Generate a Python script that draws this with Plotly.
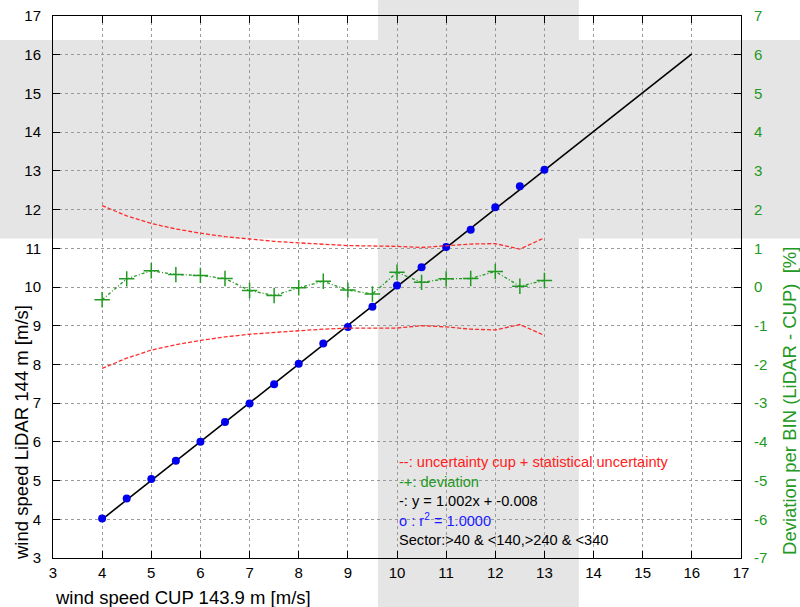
import plotly.graph_objects as go

# ---------------- data ----------------
cup_bins = [4.0, 4.5, 5.0, 5.5, 6.0, 6.5, 7.0, 7.5, 8.0, 8.5, 9.0, 9.5,
            10.0, 10.5, 11.0, 11.5, 12.0, 12.5, 13.0]
lidar_bins = [4.02, 4.54, 5.04, 5.51, 6.00, 6.51, 6.99, 7.49, 8.02, 8.54, 8.97, 9.49,
              10.04, 10.51, 11.03, 11.48, 12.06, 12.60, 13.03]
deviation = [-0.33, 0.21, 0.42, 0.32, 0.30, 0.22, -0.09, -0.22, -0.02, 0.15, -0.08, -0.18,
             0.38, 0.12, 0.21, 0.22, 0.40, 0.02, 0.17]
unc_upper = [2.10, 1.84, 1.64, 1.50, 1.39, 1.30, 1.24, 1.18, 1.14, 1.10, 1.07, 1.06,
             1.05, 1.02, 1.06, 1.11, 1.12, 0.98, 1.27]
unc_lower = [-2.10, -1.84, -1.63, -1.49, -1.38, -1.29, -1.22, -1.17, -1.13, -1.09, -1.06, -1.06,
             -1.06, -1.00, -1.03, -1.09, -1.11, -0.97, -1.25]
fit_x = [4.0, 16.0]
fit_y = [4.0, 16.024]
ticks_main = list(range(3, 18))
ticks_dev = list(range(-7, 8))

legend_lines = [
    ("--: uncertainty cup + statistical uncertainty", "#ff2020"),
    ("-+: deviation", "#229922"),
    ("-: y = 1.002x + -0.008", "#000000"),
    ("o : r<sup>2</sup> = 1.0000", "#1a1aff"),
    ("Sector:>40 & <140,>240 & <340", "#000000"),
]

FONT = "Liberation Sans, Arial, Helvetica, sans-serif"
GREEN = "#229922"
GRAY_BAND = "#e5e5e5"

fig = go.Figure()

# uncertainty (right axis)
fig.add_trace(go.Scatter(x=cup_bins, y=unc_upper, yaxis="y2", mode="lines",
                         line=dict(color="#ff2a2a", width=1.3, dash="4px,2px"),
                         showlegend=False, hoverinfo="skip"))
fig.add_trace(go.Scatter(x=cup_bins, y=unc_lower, yaxis="y2", mode="lines",
                         line=dict(color="#ff2a2a", width=1.3, dash="4px,2px"),
                         showlegend=False, hoverinfo="skip"))
# deviation (right axis)
fig.add_trace(go.Scatter(x=cup_bins, y=deviation, yaxis="y2", mode="lines+markers",
                         line=dict(color=GREEN, width=1.3, dash="3px,2px,1px,2px"),
                         marker=dict(symbol="cross-thin", size=11,
                                     line=dict(color=GREEN, width=1.5)),
                         showlegend=False))
# fit line
fig.add_trace(go.Scatter(x=fit_x, y=fit_y, mode="lines",
                         line=dict(color="black", width=1.6),
                         showlegend=False))
# bin averages
fig.add_trace(go.Scatter(x=cup_bins, y=lidar_bins, mode="markers",
                         marker=dict(color="#0000ee", size=8, line=dict(width=0)),
                         showlegend=False))

# gray background bands
fig.add_shape(type="rect", xref="x", yref="paper", x0=9.61, x1=13.70, y0=-0.3, y1=1.3,
              fillcolor=GRAY_BAND, line=dict(width=0), layer="below")
fig.add_shape(type="rect", xref="paper", yref="y", x0=-0.3, x1=1.3, y0=11.25, y1=16.38,
              fillcolor=GRAY_BAND, line=dict(width=0), layer="below")

# legend text
for i, (txt, col) in enumerate(legend_lines):
    fig.add_annotation(x=10.0, y=5.47 - 0.5 * i, xref="x", yref="y", text=txt,
                       showarrow=False, xanchor="left", yanchor="middle",
                       font=dict(family=FONT, size=14.6, color=col))

# axis titles
fig.add_annotation(x=0, y=0, xref="paper", yref="paper", xanchor="left", yanchor="middle",
                   yshift=-39, text="wind speed CUP 143.9 m [m/s]", showarrow=False,
                   font=dict(family=FONT, size=18.5, color="black"))
fig.add_annotation(x=0, y=0.2306, xref="paper", yref="paper", xanchor="center",
                   yanchor="middle", xshift=-32, textangle=-90,
                   text="wind speed LiDAR 144 m [m/s]", showarrow=False,
                   font=dict(family=FONT, size=18.5, color="black"))
fig.add_annotation(x=1, y=0.2897, xref="paper", yref="paper", xanchor="center",
                   yanchor="middle", xshift=49, textangle=-90,
                   text="Deviation per BIN (LiDAR - CUP)  [%]", showarrow=False,
                   font=dict(family=FONT, size=18.5, color=GREEN))

axis_common = dict(ticks="inside", ticklen=7, tickcolor="black", tickwidth=1,
                   showline=True, linecolor="black", linewidth=1, zeroline=False,
                   automargin=False)

fig.update_layout(
    width=800, height=607, autosize=False,
    margin=dict(l=53, r=59, t=16, b=49, pad=0, autoexpand=False),
    paper_bgcolor="white", plot_bgcolor="rgba(0,0,0,0)",
    font=dict(family=FONT, size=15, color="black"),
    showlegend=False,
    xaxis=dict(range=[3, 17], tickvals=ticks_main, ticktext=[str(t) for t in ticks_main],
               mirror="ticks", showgrid=True, gridcolor="#9a9a9a", griddash="dot",
               gridwidth=1, ticklabelstandoff=1,
               tickfont=dict(family=FONT, size=15, color="black"), **axis_common),
    yaxis=dict(range=[3, 17], tickvals=ticks_main, ticktext=[str(t) for t in ticks_main],
               showgrid=True, gridcolor="#9a9a9a", griddash="dot", gridwidth=1,
               ticklabelstandoff=8,
               tickfont=dict(family=FONT, size=15, color="black"), **axis_common),
    yaxis2=dict(range=[-7, 7], tickvals=ticks_dev, ticktext=[str(t) for t in ticks_dev],
                overlaying="y", side="right", showgrid=False, ticklabelstandoff=9,
                tickfont=dict(family=FONT, size=15, color=GREEN), **axis_common),
)

fig.write_html("out.html", config={"displayModeBar": False},
               post_script="document.body.style.margin='0px';document.body.style.padding='0px';")
